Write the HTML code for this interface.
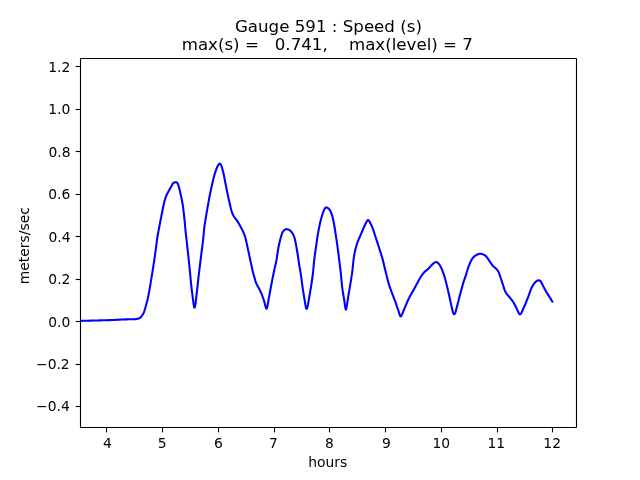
<!DOCTYPE html>
<html><head><meta charset="utf-8"><title>Gauge 591 : Speed (s)</title>
<style>
html,body{margin:0;padding:0;background:#fff;}
body{width:640px;height:480px;overflow:hidden;}
svg{display:block;will-change:transform;}
text{font-family:"DejaVu Sans","Liberation Sans",sans-serif;fill:#000;white-space:pre;}
.t{font-size:13.8889px;}
.h{font-size:16.6667px;}
</style></head><body>
<svg width="640" height="480" viewBox="0 0 640 480">
<defs><clipPath id="ax"><rect x="80" y="57.6" width="496" height="369.6"/></clipPath></defs>
<rect x="0" y="0" width="640" height="480" fill="#fff"/>
<path d="M78.00 320.95 L78.50 320.94 L79.00 320.93 L79.50 320.91 L80.00 320.90 L80.50 320.89 L81.00 320.87 L81.50 320.86 L82.00 320.85 L82.50 320.84 L83.00 320.82 L83.50 320.81 L84.00 320.80 L84.50 320.79 L85.00 320.77 L85.50 320.76 L86.00 320.75 L86.50 320.73 L87.00 320.72 L87.50 320.71 L88.00 320.70 L88.50 320.68 L89.00 320.67 L89.50 320.66 L90.00 320.64 L90.50 320.63 L91.00 320.62 L91.50 320.60 L92.00 320.59 L92.50 320.58 L93.00 320.57 L93.50 320.55 L94.00 320.54 L94.50 320.53 L95.00 320.51 L95.50 320.50 L96.00 320.49 L96.50 320.47 L97.00 320.46 L97.50 320.45 L98.00 320.43 L98.50 320.42 L99.00 320.40 L99.50 320.39 L100.00 320.38 L100.50 320.36 L101.00 320.35 L101.50 320.34 L102.00 320.32 L102.50 320.31 L103.00 320.30 L103.50 320.28 L104.00 320.27 L104.50 320.25 L105.00 320.24 L105.50 320.23 L106.00 320.21 L106.50 320.20 L107.00 320.18 L107.50 320.17 L108.00 320.16 L108.50 320.14 L109.00 320.13 L109.50 320.11 L110.00 320.10 L110.50 320.09 L111.00 320.07 L111.50 320.05 L112.00 320.03 L112.50 320.01 L113.00 319.99 L113.50 319.97 L114.00 319.94 L114.50 319.92 L115.00 319.89 L115.50 319.87 L116.00 319.84 L116.50 319.81 L117.00 319.79 L117.50 319.76 L118.00 319.73 L118.50 319.71 L119.00 319.68 L119.50 319.65 L120.00 319.63 L120.50 319.60 L121.00 319.57 L121.50 319.55 L122.00 319.52 L122.50 319.50 L123.00 319.48 L123.50 319.46 L124.00 319.44 L124.50 319.42 L125.00 319.40 L125.50 319.39 L126.00 319.37 L126.50 319.36 L127.00 319.35 L127.50 319.34 L128.00 319.32 L128.50 319.31 L129.00 319.30 L129.50 319.29 L130.00 319.28 L130.50 319.27 L131.00 319.26 L131.50 319.25 L132.00 319.24 L132.50 319.22 L133.00 319.21 L133.50 319.20 L134.00 319.18 L134.50 319.17 L135.00 319.15 L135.50 319.13 L136.00 319.11 L136.50 319.08 L137.00 318.99 L137.50 318.85 L138.00 318.68 L138.50 318.49 L139.00 318.30 L139.50 318.07 L140.00 317.77 L140.50 317.39 L141.00 316.89 L141.50 316.26 L142.00 315.55 L142.50 314.80 L143.00 314.03 L143.50 313.16 L144.00 312.10 L144.50 310.72 L145.00 309.03 L145.50 307.15 L146.00 305.17 L146.50 303.35 L147.00 301.71 L147.50 299.77 L148.00 297.51 L148.50 295.01 L149.00 292.35 L149.50 289.56 L150.00 286.70 L150.50 283.81 L151.00 280.88 L151.50 277.90 L152.00 274.84 L152.50 271.70 L153.00 268.47 L153.50 265.16 L154.00 261.81 L154.50 258.42 L155.00 255.00 L155.50 251.39 L156.00 247.53 L156.50 243.66 L157.00 239.98 L157.50 236.70 L158.00 233.78 L158.50 230.99 L159.00 228.30 L159.50 225.68 L160.00 223.10 L160.50 220.52 L161.00 217.93 L161.50 215.35 L162.00 212.80 L162.50 210.29 L163.00 207.81 L163.50 205.45 L164.00 203.27 L164.50 201.27 L165.00 199.47 L165.50 197.89 L166.00 196.49 L166.50 195.25 L167.00 194.18 L167.50 193.25 L168.00 192.34 L168.50 191.43 L169.00 190.52 L169.50 189.61 L170.00 188.70 L170.50 187.79 L171.00 186.89 L171.50 185.98 L172.00 185.08 L172.50 184.18 L173.00 183.39 L173.50 182.88 L174.00 182.59 L174.50 182.44 L175.00 182.35 L175.50 182.26 L176.00 182.23 L176.50 182.33 L177.00 182.66 L177.50 183.26 L178.00 184.22 L178.50 185.60 L179.00 187.33 L179.50 189.30 L180.00 191.44 L180.50 193.66 L181.00 195.89 L181.50 198.18 L182.00 200.62 L182.50 203.30 L183.00 206.52 L183.50 210.41 L184.00 214.82 L184.50 219.70 L185.00 225.08 L185.50 230.40 L186.00 235.10 L186.50 239.48 L187.00 243.82 L187.50 248.30 L188.00 252.95 L188.50 257.67 L189.00 262.44 L189.50 267.36 L190.00 272.56 L190.50 277.84 L191.00 283.00 L191.50 287.82 L192.00 291.99 L192.50 295.72 L193.00 299.40 L193.50 303.30 L194.00 306.54 L194.50 307.79 L195.00 306.67 L195.50 303.76 L196.00 299.72 L196.50 295.19 L197.00 290.75 L197.50 286.26 L198.00 281.73 L198.50 277.25 L199.00 272.92 L199.50 268.78 L200.00 264.69 L200.50 260.61 L201.00 256.55 L201.50 252.50 L202.00 248.55 L202.50 244.70 L203.00 240.80 L203.50 235.84 L204.00 230.03 L204.50 226.20 L205.00 222.86 L205.50 219.67 L206.00 216.62 L206.50 213.66 L207.00 210.76 L207.50 207.85 L208.00 204.95 L208.50 202.11 L209.00 199.37 L209.50 196.74 L210.00 194.22 L210.50 191.79 L211.00 189.42 L211.50 187.11 L212.00 184.85 L212.50 182.66 L213.00 180.55 L213.50 178.52 L214.00 176.56 L214.50 174.71 L215.00 173.05 L215.50 171.55 L216.00 170.15 L216.50 168.82 L217.00 167.54 L217.50 166.42 L218.00 165.47 L218.50 164.70 L219.00 164.10 L219.50 163.70 L220.00 163.62 L220.50 164.00 L221.00 164.83 L221.50 166.08 L222.00 167.70 L222.50 169.46 L223.00 171.37 L223.50 173.45 L224.00 175.73 L224.50 178.21 L225.00 180.81 L225.50 183.48 L226.00 186.14 L226.50 188.74 L227.00 191.22 L227.50 193.58 L228.00 195.88 L228.50 198.14 L229.00 200.37 L229.50 202.59 L230.00 204.78 L230.50 206.92 L231.00 208.94 L231.50 210.79 L232.00 212.42 L232.50 213.75 L233.00 214.84 L233.50 215.75 L234.00 216.55 L234.50 217.30 L235.00 217.99 L235.50 218.66 L236.00 219.31 L236.50 219.96 L237.00 220.64 L237.50 221.37 L238.00 222.17 L238.50 223.01 L239.00 223.87 L239.50 224.76 L240.00 225.66 L240.50 226.57 L241.00 227.48 L241.50 228.42 L242.00 229.38 L242.50 230.39 L243.00 231.44 L243.50 232.55 L244.00 233.71 L244.50 234.98 L245.00 236.49 L245.50 238.24 L246.00 240.21 L246.50 242.38 L247.00 244.70 L247.50 247.04 L248.00 249.38 L248.50 251.72 L249.00 254.06 L249.50 256.40 L250.00 258.74 L250.50 261.08 L251.00 263.42 L251.50 265.76 L252.00 268.07 L252.50 270.22 L253.00 272.23 L253.50 274.13 L254.00 275.97 L254.50 277.78 L255.00 279.50 L255.50 281.11 L256.00 282.55 L256.50 283.78 L257.00 284.79 L257.50 285.74 L258.00 286.67 L258.50 287.62 L259.00 288.59 L259.50 289.57 L260.00 290.55 L260.50 291.55 L261.00 292.57 L261.50 293.66 L262.00 294.93 L262.50 296.34 L263.00 297.81 L263.50 299.29 L264.00 300.76 L264.50 302.57 L265.00 304.53 L265.50 306.38 L266.00 307.86 L266.50 308.68 L267.00 308.03 L267.50 306.01 L268.00 303.20 L268.50 300.17 L269.00 297.38 L269.50 294.60 L270.00 291.79 L270.50 289.01 L271.00 286.30 L271.50 283.72 L272.00 281.18 L272.50 278.67 L273.00 276.19 L273.50 273.73 L274.00 271.30 L274.50 269.04 L275.00 266.87 L275.50 264.70 L276.00 262.44 L276.50 259.92 L277.00 256.77 L277.50 253.32 L278.00 250.02 L278.50 247.26 L279.00 244.81 L279.50 242.56 L280.00 240.49 L280.50 238.58 L281.00 236.81 L281.50 235.16 L282.00 233.69 L282.50 232.47 L283.00 231.54 L283.50 230.90 L284.00 230.36 L284.50 229.93 L285.00 229.59 L285.50 229.36 L286.00 229.21 L286.50 229.16 L287.00 229.20 L287.50 229.30 L288.00 229.43 L288.50 229.60 L289.00 229.82 L289.50 230.10 L290.00 230.44 L290.50 230.86 L291.00 231.38 L291.50 231.98 L292.00 232.66 L292.50 233.39 L293.00 234.19 L293.50 235.15 L294.00 236.34 L294.50 237.82 L295.00 239.68 L295.50 242.03 L296.00 244.67 L296.50 247.42 L297.00 250.29 L297.50 253.30 L298.00 256.63 L298.50 260.20 L299.00 263.69 L299.50 266.73 L300.00 269.20 L300.50 271.87 L301.00 275.29 L301.50 279.12 L302.00 283.05 L302.50 286.80 L303.00 290.19 L303.50 293.38 L304.00 296.43 L304.50 299.41 L305.00 302.45 L305.50 305.41 L306.00 307.76 L306.50 308.95 L307.00 308.46 L307.50 306.75 L308.00 304.39 L308.50 301.62 L309.00 298.67 L309.50 295.76 L310.00 292.85 L310.50 289.90 L311.00 286.87 L311.50 283.71 L312.00 280.27 L312.50 276.52 L313.00 272.50 L313.50 267.33 L314.00 261.77 L314.50 257.71 L315.00 254.00 L315.50 250.41 L316.00 246.90 L316.50 243.43 L317.00 240.01 L317.50 236.70 L318.00 233.58 L318.50 230.71 L319.00 228.06 L319.50 225.60 L320.00 223.30 L320.50 221.17 L321.00 219.22 L321.50 217.43 L322.00 215.76 L322.50 214.20 L323.00 212.73 L323.50 211.36 L324.00 210.14 L324.50 209.11 L325.00 208.30 L325.50 207.77 L326.00 207.51 L326.50 207.47 L327.00 207.58 L327.50 207.79 L328.00 208.10 L328.50 208.50 L329.00 208.98 L329.50 209.57 L330.00 210.31 L330.50 211.23 L331.00 212.33 L331.50 213.63 L332.00 215.13 L332.50 216.88 L333.00 218.91 L333.50 221.23 L334.00 223.86 L334.50 226.77 L335.00 229.83 L335.50 233.02 L336.00 236.33 L336.50 239.68 L337.00 243.11 L337.50 246.70 L338.00 250.49 L338.50 254.42 L339.00 258.40 L339.50 262.41 L340.00 266.53 L340.50 270.74 L341.00 275.21 L341.50 280.90 L342.00 285.84 L342.50 289.61 L343.00 292.86 L343.50 295.83 L344.00 298.75 L344.50 302.20 L345.00 305.90 L345.50 308.74 L346.00 309.64 L346.50 307.76 L347.00 304.71 L347.50 301.37 L348.00 298.11 L348.50 295.12 L349.00 292.15 L349.50 289.18 L350.00 286.20 L350.50 283.19 L351.00 280.09 L351.50 276.90 L352.00 273.66 L352.50 269.66 L353.00 264.51 L353.50 260.00 L354.00 256.61 L354.50 253.62 L355.00 251.07 L355.50 249.00 L356.00 247.19 L356.50 245.44 L357.00 243.79 L357.50 242.29 L358.00 241.00 L358.50 239.82 L359.00 238.65 L359.50 237.48 L360.00 236.31 L360.50 235.15 L361.00 234.00 L361.50 232.85 L362.00 231.71 L362.50 230.56 L363.00 229.42 L363.50 228.28 L364.00 227.14 L364.50 226.00 L365.00 224.88 L365.50 223.80 L366.00 222.78 L366.50 221.85 L367.00 221.01 L367.50 220.30 L368.00 219.96 L368.50 220.14 L369.00 220.71 L369.50 221.54 L370.00 222.50 L370.50 223.47 L371.00 224.45 L371.50 225.47 L372.00 226.57 L372.50 227.77 L373.00 229.11 L373.50 230.62 L374.00 232.15 L374.50 233.69 L375.00 235.23 L375.50 236.77 L376.00 238.31 L376.50 239.85 L377.00 241.39 L377.50 242.93 L378.00 244.48 L378.50 246.02 L379.00 247.56 L379.50 249.10 L380.00 250.65 L380.50 252.19 L381.00 253.75 L381.50 255.36 L382.00 257.05 L382.50 258.85 L383.00 260.79 L383.50 262.84 L384.00 264.95 L384.50 267.07 L385.00 269.18 L385.50 271.23 L386.00 273.27 L386.50 275.30 L387.00 277.29 L387.50 279.24 L388.00 281.11 L388.50 282.87 L389.00 284.52 L389.50 286.09 L390.00 287.58 L390.50 289.02 L391.00 290.42 L391.50 291.80 L392.00 293.13 L392.50 294.43 L393.00 295.72 L393.50 296.99 L394.00 298.26 L394.50 299.55 L395.00 300.87 L395.50 302.22 L396.00 303.63 L396.50 305.08 L397.00 306.56 L397.50 308.05 L398.00 309.53 L398.50 311.00 L399.00 312.58 L399.50 314.22 L400.00 315.57 L400.50 316.34 L401.00 316.27 L401.50 315.62 L402.00 314.58 L402.50 313.32 L403.00 312.00 L403.50 310.77 L404.00 309.58 L404.50 308.38 L405.00 307.18 L405.50 305.98 L406.00 304.80 L406.50 303.63 L407.00 302.50 L407.50 301.39 L408.00 300.29 L408.50 299.21 L409.00 298.16 L409.50 297.16 L410.00 296.20 L410.50 295.29 L411.00 294.41 L411.50 293.55 L412.00 292.69 L412.50 291.84 L413.00 290.99 L413.50 290.11 L414.00 289.22 L414.50 288.30 L415.00 287.38 L415.50 286.44 L416.00 285.50 L416.50 284.56 L417.00 283.62 L417.50 282.69 L418.00 281.77 L418.50 280.86 L419.00 279.95 L419.50 279.06 L420.00 278.19 L420.50 277.34 L421.00 276.53 L421.50 275.74 L422.00 275.00 L422.50 274.30 L423.00 273.66 L423.50 273.07 L424.00 272.53 L424.50 272.03 L425.00 271.56 L425.50 271.11 L426.00 270.67 L426.50 270.25 L427.00 269.83 L427.50 269.40 L428.00 268.96 L428.50 268.49 L429.00 268.00 L429.50 267.48 L430.00 266.95 L430.50 266.40 L431.00 265.85 L431.50 265.29 L432.00 264.75 L432.50 264.21 L433.00 263.70 L433.50 263.26 L434.00 262.89 L434.50 262.59 L435.00 262.35 L435.50 262.16 L436.00 262.04 L436.50 262.07 L437.00 262.23 L437.50 262.53 L438.00 262.94 L438.50 263.45 L439.00 264.06 L439.50 264.74 L440.00 265.52 L440.50 266.40 L441.00 267.37 L441.50 268.46 L442.00 269.64 L442.50 270.92 L443.00 272.27 L443.50 273.68 L444.00 275.17 L444.50 276.77 L445.00 278.48 L445.50 280.31 L446.00 282.22 L446.50 284.20 L447.00 286.22 L447.50 288.28 L448.00 290.38 L448.50 292.53 L449.00 294.78 L449.50 297.09 L450.00 299.42 L450.50 301.74 L451.00 304.00 L451.50 306.27 L452.00 308.54 L452.50 310.65 L453.00 312.42 L453.50 313.70 L454.00 314.32 L454.50 314.13 L455.00 313.31 L455.50 312.02 L456.00 310.38 L456.50 308.52 L457.00 306.57 L457.50 304.63 L458.00 302.68 L458.50 300.71 L459.00 298.75 L459.50 296.80 L460.00 294.88 L460.50 293.00 L461.00 291.13 L461.50 289.27 L462.00 287.43 L462.50 285.62 L463.00 283.86 L463.50 282.17 L464.00 280.62 L464.50 279.19 L465.00 277.81 L465.50 276.40 L466.00 274.89 L466.50 273.24 L467.00 271.53 L467.50 269.82 L468.00 268.21 L468.50 266.74 L469.00 265.43 L469.50 264.23 L470.00 263.12 L470.50 262.05 L471.00 261.02 L471.50 260.06 L472.00 259.17 L472.50 258.39 L473.00 257.72 L473.50 257.16 L474.00 256.67 L474.50 256.24 L475.00 255.86 L475.50 255.53 L476.00 255.23 L476.50 254.97 L477.00 254.72 L477.50 254.49 L478.00 254.28 L478.50 254.11 L479.00 253.96 L479.50 253.86 L480.00 253.80 L480.50 253.79 L481.00 253.83 L481.50 253.90 L482.00 254.02 L482.50 254.18 L483.00 254.38 L483.50 254.61 L484.00 254.87 L484.50 255.16 L485.00 255.47 L485.50 255.82 L486.00 256.25 L486.50 256.78 L487.00 257.44 L487.50 258.17 L488.00 258.92 L488.50 259.67 L489.00 260.41 L489.50 261.14 L490.00 261.87 L490.50 262.59 L491.00 263.30 L491.50 264.01 L492.00 264.71 L492.50 265.40 L493.00 266.01 L493.50 266.49 L494.00 266.89 L494.50 267.26 L495.00 267.64 L495.50 268.10 L496.00 268.61 L496.50 269.12 L497.00 269.66 L497.50 270.28 L498.00 271.01 L498.50 271.91 L499.00 273.00 L499.50 274.31 L500.00 275.73 L500.50 277.23 L501.00 278.77 L501.50 280.31 L502.00 281.87 L502.50 283.44 L503.00 285.02 L503.50 286.58 L504.00 288.10 L504.50 289.57 L505.00 290.91 L505.50 292.08 L506.00 293.01 L506.50 293.69 L507.00 294.30 L507.50 294.89 L508.00 295.45 L508.50 296.01 L509.00 296.59 L509.50 297.20 L510.00 297.83 L510.50 298.45 L511.00 299.08 L511.50 299.72 L512.00 300.37 L512.50 301.03 L513.00 301.73 L513.50 302.51 L514.00 303.37 L514.50 304.27 L515.00 305.19 L515.50 306.17 L516.00 307.22 L516.50 308.30 L517.00 309.38 L517.50 310.40 L518.00 311.46 L518.50 312.49 L519.00 313.39 L519.50 314.05 L520.00 314.34 L520.50 314.18 L521.00 313.60 L521.50 312.73 L522.00 311.67 L522.50 310.52 L523.00 309.38 L523.50 308.26 L524.00 307.15 L524.50 306.03 L525.00 304.89 L525.50 303.72 L526.00 302.50 L526.50 301.24 L527.00 299.97 L527.50 298.67 L528.00 297.37 L528.50 296.06 L529.00 294.72 L529.50 293.31 L530.00 291.89 L530.50 290.50 L531.00 289.19 L531.50 288.03 L532.00 287.00 L532.50 286.08 L533.00 285.24 L533.50 284.45 L534.00 283.72 L534.50 283.07 L535.00 282.49 L535.50 281.97 L536.00 281.51 L536.50 281.13 L537.00 280.83 L537.50 280.62 L538.00 280.47 L538.50 280.39 L539.00 280.38 L539.50 280.47 L540.00 280.71 L540.50 281.15 L541.00 281.83 L541.50 282.74 L542.00 283.73 L542.50 284.77 L543.00 285.80 L543.50 286.79 L544.00 287.70 L544.50 288.61 L545.00 289.51 L545.50 290.42 L546.00 291.31 L546.50 292.18 L547.00 293.04 L547.50 293.86 L548.00 294.65 L548.50 295.42 L549.00 296.18 L549.50 296.96 L550.00 297.76 L550.50 298.58 L551.00 299.41 L551.50 300.24 L552.00 301.09 L552.30 301.60" fill="none" stroke="#0000ff" stroke-width="2.0833" stroke-linejoin="round" stroke-linecap="square" clip-path="url(#ax)"/>
<g stroke="#000" stroke-width="1.1111" fill="none">
<line x1="80.5" y1="427.5" x2="80.5" y2="58.5"/>
<line x1="576.5" y1="427.5" x2="576.5" y2="58.5"/>
<line x1="80.5" y1="427.5" x2="576.5" y2="427.5"/>
<line x1="80.5" y1="58.5" x2="576.5" y2="58.5"/>
<line x1="106.5" y1="427.5" x2="106.5" y2="432.36"/>
<line x1="162.5" y1="427.5" x2="162.5" y2="432.36"/>
<line x1="218.5" y1="427.5" x2="218.5" y2="432.36"/>
<line x1="274.5" y1="427.5" x2="274.5" y2="432.36"/>
<line x1="329.5" y1="427.5" x2="329.5" y2="432.36"/>
<line x1="385.5" y1="427.5" x2="385.5" y2="432.36"/>
<line x1="441.5" y1="427.5" x2="441.5" y2="432.36"/>
<line x1="497.5" y1="427.5" x2="497.5" y2="432.36"/>
<line x1="552.5" y1="427.5" x2="552.5" y2="432.36"/>
<line x1="80.5" y1="406.5" x2="75.64" y2="406.5"/>
<line x1="80.5" y1="364.5" x2="75.64" y2="364.5"/>
<line x1="80.5" y1="321.5" x2="75.64" y2="321.5"/>
<line x1="80.5" y1="279.5" x2="75.64" y2="279.5"/>
<line x1="80.5" y1="236.5" x2="75.64" y2="236.5"/>
<line x1="80.5" y1="194.5" x2="75.64" y2="194.5"/>
<line x1="80.5" y1="151.5" x2="75.64" y2="151.5"/>
<line x1="80.5" y1="109.5" x2="75.64" y2="109.5"/>
<line x1="80.5" y1="66.5" x2="75.64" y2="66.5"/>
</g>
<g class="t">
<text x="107.361" y="448.000" text-anchor="middle">4</text>
<text x="162.260" y="448.000" text-anchor="middle">5</text>
<text x="218.389" y="448.000" text-anchor="middle">6</text>
<text x="273.418" y="448.000" text-anchor="middle">7</text>
<text x="329.517" y="448.000" text-anchor="middle">8</text>
<text x="386.376" y="448.000" text-anchor="middle">9</text>
<text x="441.256" y="448.000" text-anchor="middle">10</text>
<text x="496.335" y="448.000" text-anchor="middle">11</text>
<text x="552.164" y="448.000" text-anchor="middle">12</text>
<text x="69.758" y="411.000" text-anchor="end">−0.4</text>
<text x="69.718" y="369.000" text-anchor="end">−0.2</text>
<text x="70.378" y="327.000" text-anchor="end">0.0</text>
<text x="70.418" y="284.000" text-anchor="end">0.2</text>
<text x="70.588" y="242.000" text-anchor="end">0.4</text>
<text x="70.258" y="199.000" text-anchor="end">0.6</text>
<text x="70.498" y="157.000" text-anchor="end">0.8</text>
<text x="70.318" y="114.000" text-anchor="end">1.0</text>
<text x="70.378" y="72.000" text-anchor="end">1.2</text>
<text x="327.690" y="467.000" text-anchor="middle">hours</text>
<text x="0" y="0" text-anchor="middle" transform="translate(29.028 245.690) rotate(-90)">meters/sec</text>
</g>
<g class="h">
<text x="234.96" y="32.0">Gauge 591 : Speed (s)</text>
<text x="181.67" y="50.0">max(s) =   0.741,    max(level) = 7</text>
</g>
</svg>
</body></html>
